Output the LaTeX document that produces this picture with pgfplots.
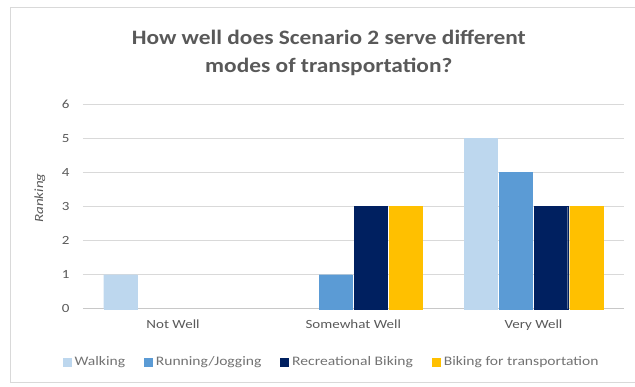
\documentclass[border=0pt]{standalone}
\usepackage{pgfplots}
\pgfplotsset{compat=1.18}
\usepackage{fontspec}
\setmainfont{Carlito}[FakeStretch=1.2]
\newfontfamily\titlefont{Carlito}[FakeStretch=1.14]
\definecolor{txt}{HTML}{595959}
\definecolor{gridc}{HTML}{D9D9D9}
\definecolor{axisc}{HTML}{C8C8C8}
\definecolor{walk}{HTML}{BDD7EE}
\definecolor{run}{HTML}{5B9BD5}
\definecolor{rec}{HTML}{002060}
\definecolor{bike}{HTML}{FFC000}
\begin{document}
\begin{tikzpicture}[x=1pt,y=1pt]
\path (0,0) rectangle (635,387);
\draw[gridc,line width=0.8pt] (635,380) -- (10,380) -- (10,4) -- (635,4);
\node[color=txt,font=\titlefont\bfseries\fontsize{20.5}{28}\selectfont,align=center] at (329,334) {How well does Scenario 2 serve different\\modes of transportation?};
\begin{axis}[
  at={(83pt,78pt)}, anchor=south west,
  scale only axis, width=541pt, height=205pt,
  ybar, bar width=33.2pt,
  xmin=-0.5, xmax=2.5, ymin=0, ymax=6,
  xtick={0,1,2}, xticklabels={Not Well,Somewhat Well,Very Well},
  ytick={0,1,...,6},
  xmajorgrids=false, ymajorgrids=true,
  grid style={gridc, line width=0.8pt},
  axis line style={draw=none},
  major tick length=0pt,
  tick style={draw=none},
  /pgf/number format/assume math mode=true,
  ticklabel style={txt, font=\fontsize{12.5}{15}\selectfont},
  xticklabel style={yshift=-8pt},
  yticklabel style={xshift=-10pt},
  ylabel={\textit{Ranking}},
  ylabel style={txt, font=\fontsize{12.5}{15}\selectfont, at={(axis description cs:-0.0795,0.54)}, anchor=center},
  legend style={at={(axis description cs:0.46,-0.259)}, anchor=center, draw=none, fill=none,
    legend columns=4, font=\fontsize{13}{15}\selectfont, text=txt!85,
    /tikz/every odd column/.append style={column sep=1.5pt},
    /tikz/every even column/.append style={column sep=17pt}},
  legend image code/.code={\fill[#1] (0pt,-4pt) rectangle (8pt,4pt);},
  clip=false,
]
\draw[axisc, line width=0.8pt] (axis cs:-0.5,0) -- (axis cs:2.5,0);
\addplot[fill=walk, draw=walk, line width=0.3pt] coordinates {(0,1) (2,5)};
\addplot[fill=run, draw=run, line width=0.3pt] coordinates {(1,1) (2,4)};
\addplot[fill=rec, draw=rec, line width=0.3pt] coordinates {(1,3) (2,3)};
\addplot[fill=bike, draw=bike, line width=0.3pt] coordinates {(1,3) (2,3)};
\legend{Walking,Running/Jogging,Recreational Biking,Biking for transportation}
\end{axis}
\end{tikzpicture}
\end{document}
